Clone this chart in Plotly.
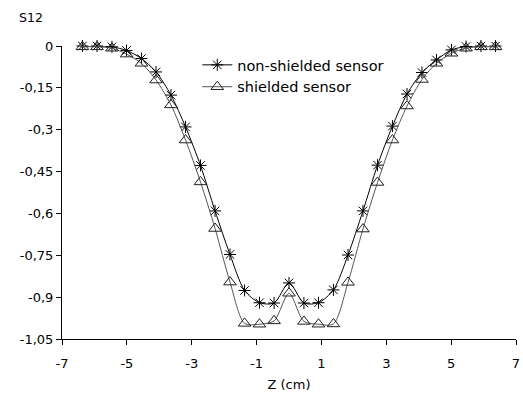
import plotly.graph_objects as go

z_cm = [-6.37, -5.92, -5.46, -5.01, -4.55, -4.10, -3.64, -3.19, -2.73, -2.28,
        -1.82, -1.37, -0.91, -0.46, 0.0, 0.46, 0.91, 1.37, 1.82, 2.28,
        2.73, 3.19, 3.64, 4.10, 4.55, 5.01, 5.46, 5.92, 6.37]

s12_non_shielded = [0.0, 0.0, -0.003, -0.016, -0.045, -0.093, -0.176, -0.29, -0.428, -0.591,
                    -0.747, -0.876, -0.92, -0.921, -0.849, -0.921, -0.92, -0.874, -0.749, -0.591,
                    -0.427, -0.287, -0.172, -0.095, -0.05, -0.014, -0.002, 0.0, 0.0]

s12_shielded = [-0.003, -0.003, -0.008, -0.029, -0.062, -0.122, -0.211, -0.337, -0.487, -0.654,
                -0.846, -0.994, -0.997, -0.985, -0.886, -0.987, -0.997, -0.996, -0.847, -0.656,
                -0.489, -0.337, -0.215, -0.12, -0.062, -0.026, -0.008, -0.003, -0.003]

x_ticks = [-7, -5, -3, -1, 1, 3, 5, 7]
x_ticktext = ["-7", "-5", "-3", "-1", "1", "3", "5", "7"]
y_ticks = [0, -0.15, -0.3, -0.45, -0.6, -0.75, -0.9, -1.05]
y_ticktext = ["0", "-0,15", "-0,3", "-0,45", "-0,6", "-0,75", "-0,9", "-1,05"]

FONT = "DejaVu Sans, Liberation Sans, Arial, sans-serif"

fig = go.Figure()
fig.add_trace(go.Scatter(
    x=z_cm, y=s12_non_shielded, name="non-shielded sensor",
    mode="lines+markers", cliponaxis=False,
    line=dict(color="#000000", width=1, shape="spline", smoothing=0.8),
    marker=dict(symbol="asterisk-open", size=10, color="#000000",
                line=dict(color="#000000", width=1)),
))
fig.add_trace(go.Scatter(
    x=z_cm, y=s12_shielded, name="shielded sensor",
    mode="lines+markers", cliponaxis=False,
    line=dict(color="#555555", width=1, shape="spline", smoothing=0.8),
    marker=dict(symbol="triangle-up-open", size=11, color="#222222",
                line=dict(color="#222222", width=1)),
))

fig.update_layout(
    width=523, height=394,
    margin=dict(l=62, r=3, t=46, b=55),
    paper_bgcolor="white", plot_bgcolor="white",
    font=dict(family=FONT, size=13, color="#000000"),
    showlegend=True,
    legend=dict(x=0.298, y=0.99, xanchor="left", yanchor="top",
                bgcolor="rgba(0,0,0,0)", font=dict(size=14.5),
                tracegroupgap=0, itemwidth=30),
    xaxis=dict(range=[-7, 7], tickvals=x_ticks, ticktext=x_ticktext,
               showgrid=False, zeroline=False, showline=True, linecolor="#000000",
               linewidth=1, ticks="outside", ticklen=5, tickcolor="#000000",
               ticklabeloverflow="allow", ticklabelstandoff=7,
               title=dict(text="Z (cm)", font=dict(size=13), standoff=10)),
    yaxis=dict(range=[-1.05, 0], tickvals=y_ticks, ticktext=y_ticktext,
               showgrid=False, zeroline=False, showline=True, linecolor="#000000",
               linewidth=1, ticks="outside", ticklen=5, tickcolor="#000000",
               ticklabeloverflow="allow", ticklabelstandoff=0),
    annotations=[dict(text="S12", x=(31 - 62) / 458, y=(339 - 18) / 293,
                      xref="paper", yref="paper", xanchor="center", yanchor="middle",
                      showarrow=False, font=dict(size=12.5))],
)

fig.write_html("out.html")
